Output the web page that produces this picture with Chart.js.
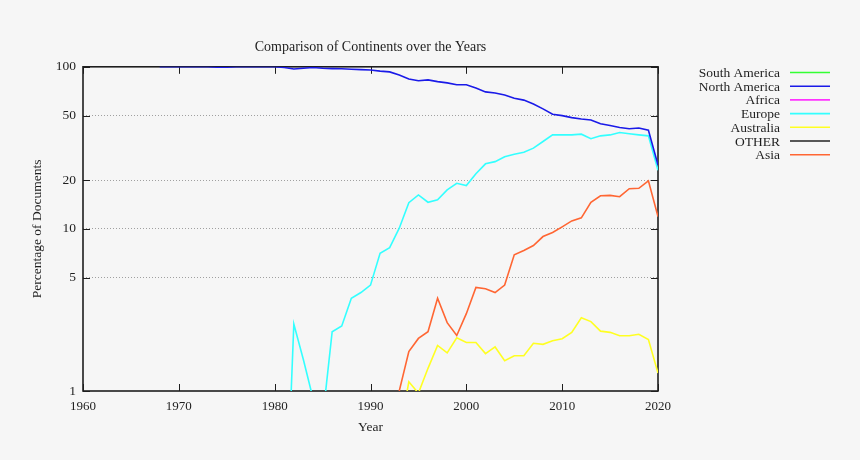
<!DOCTYPE html>
<html>
<head>
<meta charset="utf-8">
<script src="https://cdn.jsdelivr.net/npm/chart.js@4/dist/chart.umd.min.js"></script>
<style>
  html,body{margin:0;padding:0;background:#f6f6f6;}
  #wrap{width:860px;height:460px;}
</style>
</head>
<body>
<div id="wrap"><canvas id="chart"></canvas></div>
<script>
// ===== DATA =====
const xTicks = [1960,1970,1980,1990,2000,2010,2020];
const yTicks = [1,5,10,20,50,100];

const seriesNames = ["South America","North America","Africa","Europe","Australia","OTHER","Asia"];
const seriesColors = ["#33ff33","#1a1ae8","#ff33ff","#33ffff","#ffff22","#222222","#ff6633"];

// each series: first year + one value per year after it (percent)
const southAmericaStart = 1960;
const southAmericaValues = [];

const northAmericaStart = 1968;
const northAmericaValues = [100,100,100,100,100,100,99.3,99.3,100,100,100,100,100,99,97,98,99,98,97.5,97.2,
    96.5,96,95.5,94,93,89,84,82,83,81,79.6,77.5,77.5,74,70,69,67,64,62.3,59,55,51,50,48.6,47.6,47,
    44.5,43.4,42.2,41.5,41.9,40.6,24.8];

const africaStart = 1960;
const africaValues = [];

const europeStart = 1981;
const europeValues = [0.08,2.59,1.56,0.9,0.67,2.32,2.52,3.73,4.05,4.5,7.08,7.67,10.1,14.5,16.2,14.6,15.1,
    17.4,19.1,18.5,21.9,25.2,26,27.9,28.9,29.7,31.5,34.6,38,38,38,38.4,36,37.5,38,39.3,38.6,38,37.5,23];

const australiaStart = 1993;
const australiaValues = [0.53,1.14,0.97,1.38,1.91,1.72,2.13,1.99,1.99,1.70,1.87,1.54,1.65,1.65,1.97,1.94,
    2.04,2.1,2.3,2.83,2.68,2.34,2.3,2.19,2.19,2.24,2.08,1.29];

const otherStart = 1960;
const otherValues = [];

const asiaStart = 1993;
const asiaValues = [1.0,1.75,2.11,2.32,3.73,2.64,2.2,3.0,4.35,4.27,4.05,4.5,6.92,7.35,7.89,8.97,9.5,10.3,
    11.2,11.7,14.6,16,16.1,15.8,17.7,17.8,19.8,11.9];

// ===== BUILD =====
const FONT = "'Liberation Serif','DejaVu Serif',serif";
const TEXT = "#1e1e1e";

function toPoints(start, values){
    return values.map((v,i)=>({x:start+i, y:v}));
}

const seriesData = [
    toPoints(southAmericaStart, southAmericaValues),
    toPoints(northAmericaStart, northAmericaValues),
    toPoints(africaStart, africaValues),
    toPoints(europeStart, europeValues),
    toPoints(australiaStart, australiaValues),
    toPoints(otherStart, otherValues),
    toPoints(asiaStart, asiaValues)
];

const datasets = seriesNames.map((name,i)=>({
    label:name,
    data:seriesData[i],
    borderColor:seriesColors[i],
    backgroundColor:seriesColors[i],
    borderWidth:1.6,
    pointRadius:0,
    tension:0,
    fill:false
}));

// box round the plot + inward tick marks (gnuplot style), under the lines
const frame = {
    id:"frame",
    beforeDatasetsDraw(chart){
        const {ctx, chartArea:a, scales} = chart;
        ctx.save();
        ctx.strokeStyle = "#1e1e1e";
        ctx.lineWidth = 1;
        const len = 7;
        ctx.beginPath();
        scales.x.ticks.forEach(t=>{
            const px = Math.round(scales.x.getPixelForValue(t.value)) + 0.5;
            ctx.moveTo(px, a.bottom); ctx.lineTo(px, a.bottom - len);
            ctx.moveTo(px, a.top); ctx.lineTo(px, a.top + len);
        });
        scales.y.ticks.forEach(t=>{
            const py = Math.round(scales.y.getPixelForValue(t.value)) + 0.5;
            ctx.moveTo(a.left, py); ctx.lineTo(a.left + len, py);
            ctx.moveTo(a.right, py); ctx.lineTo(a.right - len, py);
        });
        ctx.stroke();
        ctx.lineWidth = 1.6;
        ctx.strokeRect(a.left, a.top, a.right - a.left, a.bottom - a.top);
        ctx.restore();
    }
};

// legend on the right: text right-aligned, sample line after it
const sideLegend = {
    id:"sideLegend",
    afterDraw(chart){
        const ctx = chart.ctx;
        ctx.save();
        ctx.font = "13.5px " + FONT;
        ctx.textAlign = "right";
        ctx.textBaseline = "middle";
        chart.data.datasets.forEach((d,i)=>{
            const y = 72.5 + i*13.7;
            ctx.fillStyle = TEXT;
            ctx.fillText(d.label, 780, y + 1);
            ctx.strokeStyle = d.borderColor;
            ctx.lineWidth = 1.6;
            ctx.beginPath();
            ctx.moveTo(790, y); ctx.lineTo(830, y);
            ctx.stroke();
        });
        ctx.restore();
    }
};

const chart = new Chart(document.getElementById("chart"),{
    type:"line",
    data:{datasets},
    plugins:[frame, sideLegend],
    options:{
        responsive:true,
        maintainAspectRatio:false,
        animation:false,
        layout:{padding:{left:0,right:202,top:0,bottom:0}},
        plugins:{
            legend:{display:false},
            tooltip:{enabled:false},
            title:{
                display:true,
                text:"Comparison of Continents over the Years",
                fullSize:false,
                color:TEXT,
                font:{family:FONT,size:14,weight:"normal"},
                padding:{top:39,bottom:11}
            }
        },
        scales:{
            x:{
                type:"linear",
                min:1960,
                max:2020,
                afterBuildTicks:s=>{ s.ticks = xTicks.map(v=>({value:v})); },
                afterFit:s=>{ s.height = 69; },
                grid:{display:false, drawTicks:false},
                border:{display:false},
                ticks:{
                    color:TEXT,
                    padding:8,
                    maxRotation:0,
                    font:{family:FONT,size:13},
                    callback:v=>String(v)
                },
                title:{
                    display:true,
                    text:"Year",
                    color:TEXT,
                    font:{family:FONT,size:13.5},
                    padding:{top:0,bottom:24}
                }
            },
            y:{
                type:"logarithmic",
                min:1,
                max:100,
                afterBuildTicks:s=>{ s.ticks = yTicks.map(v=>({value:v})); },
                afterFit:s=>{ s.width = 83; },
                grid:{
                    drawTicks:false,
                    color:c=>(c.tick && (c.tick.value===1 || c.tick.value===100)) ? "rgba(0,0,0,0)" : "#a0a0a0",
                    lineWidth:1
                },
                border:{display:false, dash:[1,2]},
                ticks:{
                    color:TEXT,
                    padding:7,
                    font:{family:FONT,size:13.5},
                    callback:v=>String(v)
                },
                title:{
                    display:true,
                    text:"Percentage of Documents",
                    color:TEXT,
                    font:{family:FONT,size:13.5},
                    padding:{top:29,bottom:0}
                }
            }
        }
    }
});
</script>
</body>
</html>
